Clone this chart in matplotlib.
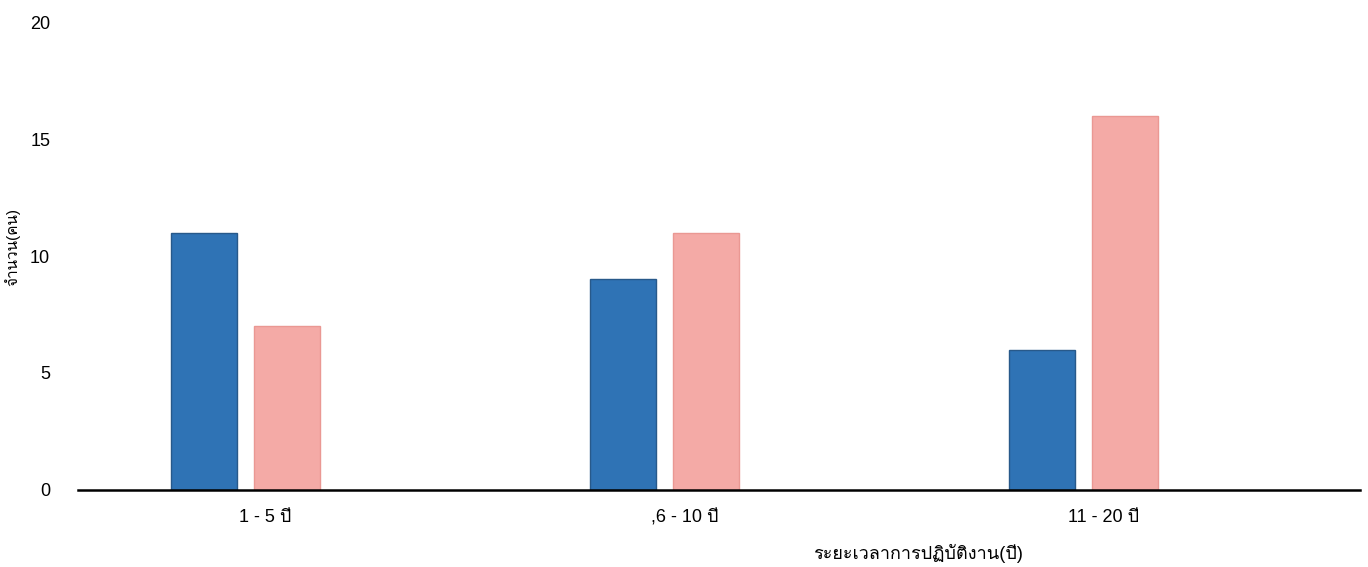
import numpy as np
import matplotlib
matplotlib.use('Agg')
import matplotlib.pyplot as plt
import matplotlib.transforms as mtransforms
from matplotlib import font_manager
from matplotlib.ft2font import FT2Font

# data
categories = ['1 - 5 ปี', ',6 - 10 ปี', '11 - 20 ปี']
series_a = [11, 9, 6]
series_b = [7, 11, 16]

# find a font that has Thai glyphs
thai_font = None
for f in font_manager.fontManager.ttflist:
    try:
        if FT2Font(f.fname).get_char_index(ord('ป')) != 0:
            thai_font = f.name
            break
    except Exception:
        pass
families = ['Liberation Sans', 'DejaVu Sans']
if thai_font:
    families = ['Liberation Sans', thai_font, 'DejaVu Sans']
plt.rcParams['font.family'] = families

fig = plt.figure(figsize=(13.68, 5.67), dpi=100)
ax = fig.add_axes([0.057, 0.136, 0.937, 0.825])

x = np.arange(len(categories))
w = 0.157
ax.bar(x - 0.099, series_a, w, color='#2f73b5', edgecolor='#28598a', linewidth=1)
ax.bar(x + 0.099, series_b, w, color='#f4aaa6', edgecolor='#ea9893', linewidth=1)

ax.set_xlim(-0.40, 2.66)
ax.set_ylim(0, 20)
ax.set_yticks([0, 5, 10, 15, 20])
ax.set_xticks(x)
ax.set_xticklabels(categories)
ax.tick_params(length=0, labelsize=13)
ax.tick_params(axis='y', pad=20)
ax.tick_params(axis='x', pad=14)

# labels sit a little right of the bar groups in the original
shift = mtransforms.ScaledTranslation(0.2, 0, fig.dpi_scale_trans)
for lab in ax.get_xticklabels():
    lab.set_transform(lab.get_transform() + shift)

for s in ['top', 'right', 'left']:
    ax.spines[s].set_visible(False)
ax.spines['bottom'].set_linewidth(1.8)
ax.spines['bottom'].set_color('black')

ax.set_xlabel('ระยะเวลาการปฏิบัติงาน(ปี)', fontsize=13)
ax.xaxis.set_label_coords(0.655, -0.115)
ax.set_ylabel('จำนวน(คน)', fontsize=11)
ax.yaxis.set_label_coords(-0.045, 0.52)

plt.savefig('out.png', dpi=100)
